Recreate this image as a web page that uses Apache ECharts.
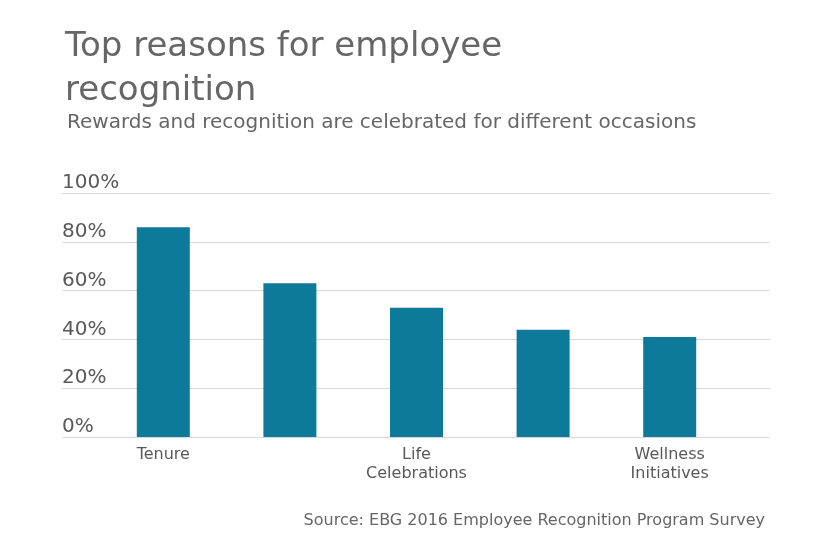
<!DOCTYPE html>
<html>
<head>
<meta charset="utf-8">
<script src="https://cdn.jsdelivr.net/npm/echarts@6/dist/echarts.min.js"></script>
<style>
  html, body { margin: 0; padding: 0; background: #fff; }
  #chart { width: 840px; height: 547px; }
</style>
</head>
<body>
<div id="chart"></div>
<script>
const categories = ["Tenure", "Performance", "Life\nCelebrations", "Retirement", "Wellness\nInitiatives"];
const values = [86, 63, 53, 44, 41];
const yTicks = [0, 20, 40, 60, 80, 100];

const chart = echarts.init(document.getElementById("chart"));
const font = "DejaVu Sans, Verdana, sans-serif";
const option = {
  animation: false,
  title: [
    {
      text: "Top reasons for employee\nrecognition",
      left: 60, top: 20,
      textStyle: { fontFamily: font, fontSize: 34, fontWeight: "normal", color: "#666", lineHeight: 44 }
    },
    {
      text: "Rewards and recognition are celebrated for different occasions",
      left: 62, top: 108,
      textStyle: { fontFamily: font, fontSize: 20, fontWeight: "normal", color: "#666" }
    },
    {
      text: "Source: EBG 2016 Employee Recognition Program Survey",
      right: 70, top: 508,
      textStyle: { fontFamily: font, fontSize: 16, fontWeight: "normal", color: "#666" }
    }
  ],
  grid: [
    { left: 62, right: 70, top: 193, bottom: 110 },
    { left: 100, right: 107, top: 193, bottom: 110 }
  ],
  xAxis: [
    { gridIndex: 0, type: "value", show: false, min: 0, max: 1 },
    {
      gridIndex: 1, type: "category", data: categories,
      axisTick: { show: false },
      axisLine: { show: false },
      axisLabel: { fontFamily: font, fontSize: 16, color: "#595959", margin: 8, lineHeight: 19 }
    }
  ],
  yAxis: [
    {
      gridIndex: 0, type: "value", min: 0, max: 100, interval: 20,
      axisLine: { show: false }, axisTick: { show: false },
      splitLine: { lineStyle: { color: "#d9d9d9", width: 1 } },
      axisLabel: {
        inside: true, margin: 0, verticalAlign: "bottom", align: "left",
        fontFamily: font, fontSize: 20, color: "#595959",
        formatter: function (v) { return yTicks.indexOf(v) >= 0 ? v + "%" : ""; }
      }
    },
    { gridIndex: 1, type: "value", min: 0, max: 100, show: false }
  ],
  series: [
    {
      type: "bar", xAxisIndex: 1, yAxisIndex: 1,
      data: values, barWidth: 53,
      itemStyle: { color: "#0e7a99" }
    }
  ]
};
chart.setOption(option);
</script>
</body>
</html>
